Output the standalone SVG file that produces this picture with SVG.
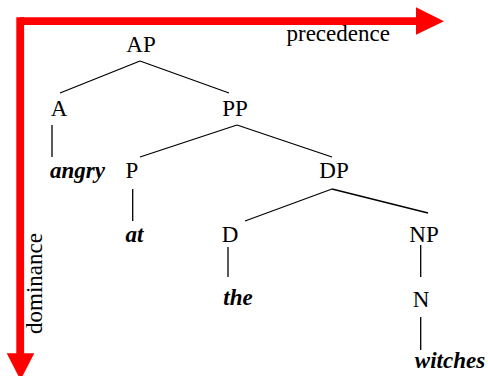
<svg xmlns="http://www.w3.org/2000/svg" width="488" height="376" viewBox="0 0 488 376">
  <style>
    text { font-family: 'Liberation Serif', 'DejaVu Serif', serif; font-size: 23px; fill: #000; }
    .lbl { text-anchor: middle; }
    .word { font-weight: bold; font-style: italic; }
    .edge { stroke: #000; stroke-width: 1.3; fill: none; }
    .axis { stroke: #ff0000; stroke-width: 7.8; fill: none; }
    .head { fill: #ff0000; }
  </style>
  <rect width="488" height="376" fill="#fff"/>

  <!-- axes: precedence (left to right), dominance (top to bottom) -->
  <g id="axes">
    <line class="axis" x1="20" y1="21.2" x2="418" y2="21.2"/>
    <polygon class="head" points="416,7.3 444,21.2 416,34.7"/>
    <line class="axis" x1="20.2" y1="17.3" x2="20.2" y2="355"/>
    <polygon class="head" points="6.7,353.3 34.3,353.3 20.5,380"/>
    <text x="286.5" y="41">precedence</text>
    <text transform="translate(41.5,334) rotate(-90)">dominance</text>
  </g>

  <!-- tree branches -->
  <g id="connectors">
    <line class="edge" x1="140" y1="61" x2="60" y2="93"/>
    <line class="edge" x1="140" y1="61" x2="229" y2="93"/>
    <line class="edge" x1="52" y1="125" x2="52" y2="157"/>
    <line class="edge" x1="237" y1="125" x2="140" y2="157"/>
    <line class="edge" x1="237" y1="125" x2="332" y2="157"/>
    <line class="edge" x1="132.7" y1="189" x2="132.7" y2="221"/>
    <line class="edge" x1="332" y1="189" x2="245" y2="221"/>
    <line class="edge" x1="332" y1="189" x2="428" y2="213"/>
    <line class="edge" x1="228" y1="247" x2="228" y2="277"/>
    <line class="edge" x1="420.7" y1="245" x2="420.7" y2="277"/>
    <line class="edge" x1="420.7" y1="317" x2="420.7" y2="350"/>
  </g>

  <g id="AP"><text class="lbl" x="141" y="52">AP</text></g>
  <g id="A"><text class="lbl" x="59" y="116">A</text></g>
  <g id="PP"><text class="lbl" x="235" y="116">PP</text></g>
  <g id="angry"><text class="lbl word" x="77.5" y="178">angry</text></g>
  <g id="P"><text class="lbl" x="132" y="178">P</text></g>
  <g id="DP"><text class="lbl" x="334" y="178">DP</text></g>
  <g id="at"><text class="lbl word" x="134.5" y="242">at</text></g>
  <g id="D"><text class="lbl" x="230" y="242">D</text></g>
  <g id="NP"><text class="lbl" x="424" y="242">NP</text></g>
  <g id="the"><text class="lbl word" x="238" y="305">the</text></g>
  <g id="N"><text class="lbl" x="421" y="306.5">N</text></g>
  <g id="witches"><text class="lbl word" x="450" y="368">witches</text></g>
</svg>
